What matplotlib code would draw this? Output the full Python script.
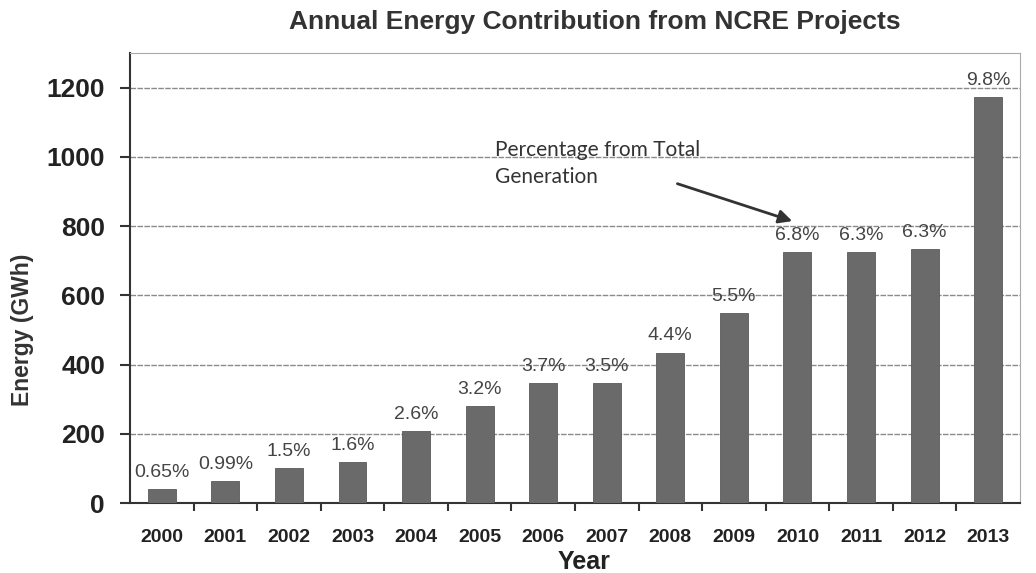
import matplotlib
matplotlib.use("Agg")
import matplotlib.pyplot as plt
import numpy as np

years = ["2000", "2001", "2002", "2003", "2004", "2005", "2006",
         "2007", "2008", "2009", "2010", "2011", "2012", "2013"]
energy_gwh = [40, 64, 101, 118, 208, 280, 347, 347, 434, 549, 725, 725, 734, 1173]
share_labels = ["0.65%", "0.99%", "1.5%", "1.6%", "2.6%", "3.2%", "3.7%",
                "3.5%", "4.4%", "5.5%", "6.8%", "6.3%", "6.3%", "9.8%"]

plt.rcParams["font.family"] = ["Liberation Sans", "DejaVu Sans"]

fig = plt.figure(figsize=(10.36, 5.73), dpi=100)
ax = fig.add_axes([0.1255, 0.122, 0.859, 0.7855])

x = np.arange(len(years))
bars = ax.bar(x, energy_gwh, width=0.44, color="#6a6a6a", edgecolor="#5a5a5a",
              linewidth=0.6, zorder=3)

for b, lab in zip(bars, share_labels):
    ax.annotate(lab, (b.get_x() + b.get_width() / 2, b.get_height()),
                xytext=(0, 6), textcoords="offset points", ha="center",
                va="bottom", fontsize=14, color="#444444")

ax.set_xlim(-0.5, len(years) - 0.5)
ax.set_ylim(0, 1300)
ax.set_yticks(range(0, 1201, 200))
ax.yaxis.grid(True, color="#8a8a8a", linestyle=(0, (4, 1)), linewidth=1.0, zorder=0)

ax.set_xticks(x)
ax.set_xticklabels(years, fontsize=14, fontweight="bold", color="#222222")
ax.set_xticks(np.arange(0.5, len(years) - 0.5, 1), minor=True)
ax.tick_params(axis="x", which="major", length=0, pad=19)
ax.tick_params(axis="x", which="minor", length=6, width=1.5, color="#333333")
ax.tick_params(axis="y", labelsize=19, length=7, width=1.5, color="#333333", pad=11)
for t in ax.get_yticklabels():
    t.set_fontweight("bold")
    t.set_color("#222222")

ax.spines["left"].set_color("#333333")
ax.spines["left"].set_linewidth(1.5)
ax.spines["bottom"].set_color("#333333")
ax.spines["bottom"].set_linewidth(1.5)
ax.spines["top"].set_color("#aaaaaa")
ax.spines["right"].set_color("#aaaaaa")

fig.text(0.022, 0.425, "Energy (GWh)", rotation=90, ha="center", va="center",
         fontsize=16.5, fontweight="bold", color="#333333")
fig.text(0.564, 0.019, "Year", ha="center", va="center", fontsize=18,
         fontweight="bold", color="#222222")
fig.text(0.574, 0.962, "Annual Energy Contribution from NCRE Projects", ha="center",
         va="center", fontsize=19, fontweight="bold", color="#333333")

ax.text(5.24, 1050, "Percentage from Total\nGeneration", ha="left", va="top",
        fontsize=15, family=["Lato", "DejaVu Sans"], color="#333333", linespacing=1.45)
ax.annotate("", xy=(9.96, 812), xytext=(8.07, 925),
            arrowprops=dict(arrowstyle="-|>", color="#333333", lw=2,
                            mutation_scale=20))

fig.savefig("out.png", dpi=100)
